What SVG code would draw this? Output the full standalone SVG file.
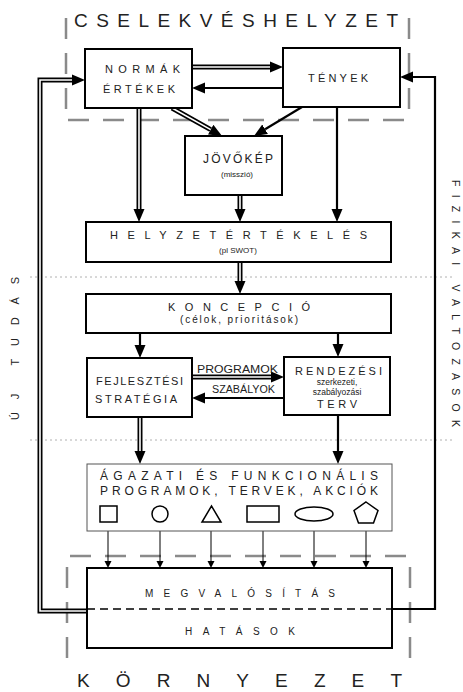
<svg xmlns="http://www.w3.org/2000/svg" width="463" height="692" viewBox="0 0 463 692">
<defs>
<marker id="ah" markerUnits="userSpaceOnUse" viewBox="0 -6 14 12" refX="0" refY="0" markerWidth="14" markerHeight="12" orient="auto"><path d="M0,-5.5 L13,0 L0,5.5 z" fill="#000"/></marker>
<marker id="as" markerUnits="userSpaceOnUse" viewBox="0 -4 8 8" refX="0" refY="0" markerWidth="8" markerHeight="8" orient="auto"><path d="M0,-3.5 L7,0 L0,3.5 z" fill="#000"/></marker>
</defs>
<style>
.box{fill:#fff;stroke:#000;stroke-width:2}
.t{font-family:"Liberation Sans",Arial,sans-serif;fill:#222}
.dbl{fill:none;stroke:#000;stroke-width:5}
.dblw{fill:none;stroke:#fff;stroke-width:1.6}
.sgl{fill:none;stroke:#000;stroke-width:2.2}
.thin{fill:none;stroke:#000;stroke-width:1}
.gd{fill:none;stroke:#8a8a8a;stroke-width:2.5;stroke-dasharray:21 14}
.dot{fill:none;stroke:#b0b0b0;stroke-width:1;stroke-dasharray:2 3}
.shp{fill:none;stroke:#000;stroke-width:1.5}
</style>
<rect width="463" height="692" fill="#fff"/>
<g id="frame">
<line class="dot" x1="30" y1="277" x2="455" y2="277"/>
<line class="dot" x1="30" y1="440" x2="455" y2="440"/>
<line class="gd" x1="66" y1="18" x2="66" y2="110"/>
<line class="gd" x1="409" y1="18" x2="409" y2="110"/>
<line class="gd" x1="68" y1="120" x2="409" y2="120"/>
<line class="gd" x1="70" y1="556" x2="409" y2="556"/>
<line class="gd" x1="67" y1="567" x2="67" y2="660"/>
<line class="gd" x1="410" y1="567" x2="410" y2="660"/>
<text class="t" x="74" y="27" font-size="19" textLength="324" lengthAdjust="spacing">CSELEKVÉSHELYZET</text>
<text class="t" x="77" y="687" font-size="19" textLength="325" lengthAdjust="spacing">KÖRNYEZET</text>
<text class="t" font-size="11" transform="translate(19,420) rotate(-90)" textLength="143" lengthAdjust="spacing">ÚJ TUDÁS</text>
<text class="t" font-size="10.5" transform="translate(452,180) rotate(90)" textLength="247" lengthAdjust="spacing">FIZIKAI VALTOZASOK</text>
</g>
<g id="connectors">
<path class="dbl" d="M87,611 H40 V80 H72" marker-end="url(#ah)"/>
<path class="dblw" d="M87,611 H40 V80 H72"/>
<path class="sgl" d="M392,609 H435 V77 H413" marker-end="url(#ah)"/>
<line class="dbl" x1="192" y1="67" x2="270" y2="67" marker-end="url(#ah)"/>
<line class="dblw" x1="192" y1="67" x2="270" y2="67"/>
<line class="sgl" x1="283" y1="88" x2="205" y2="88" marker-end="url(#ah)"/>
<line class="dbl" x1="172" y1="108" x2="210.7" y2="129.6" marker-end="url(#ah)"/>
<line class="dblw" x1="172" y1="108" x2="210.7" y2="129.6"/>
<line class="sgl" x1="302" y1="107" x2="265.1" y2="129.3" marker-end="url(#ah)"/>
<line class="dbl" x1="139" y1="108" x2="139" y2="209" marker-end="url(#ah)"/>
<line class="dblw" x1="139" y1="108" x2="139" y2="209"/>
<line class="dbl" x1="240" y1="195" x2="240" y2="209" marker-end="url(#ah)"/>
<line class="dblw" x1="240" y1="195" x2="240" y2="209"/>
<line class="sgl" x1="337" y1="107" x2="337" y2="209" marker-end="url(#ah)"/>
<line class="dbl" x1="240" y1="262" x2="240" y2="281" marker-end="url(#ah)"/>
<line class="dblw" x1="240" y1="262" x2="240" y2="281"/>
<line class="sgl" x1="140" y1="333" x2="140" y2="345" marker-end="url(#ah)"/>
<line class="sgl" x1="338" y1="333" x2="338" y2="344" marker-end="url(#ah)"/>
<line class="dbl" x1="192" y1="377" x2="271" y2="377" marker-end="url(#ah)"/>
<line class="dblw" x1="192" y1="377" x2="271" y2="377"/>
<line class="sgl" x1="284" y1="398" x2="205" y2="398" marker-end="url(#ah)"/>
<line class="dbl" x1="140" y1="417" x2="140" y2="451" marker-end="url(#ah)"/>
<line class="dblw" x1="140" y1="417" x2="140" y2="451"/>
<line class="sgl" x1="338" y1="415" x2="338" y2="451" marker-end="url(#ah)"/>
<line class="thin" x1="108" y1="522" x2="108" y2="561" marker-end="url(#as)"/>
<line class="thin" x1="160" y1="522" x2="160" y2="561" marker-end="url(#as)"/>
<line class="thin" x1="211" y1="522" x2="211" y2="561" marker-end="url(#as)"/>
<line class="thin" x1="263" y1="522" x2="263" y2="561" marker-end="url(#as)"/>
<line class="thin" x1="314" y1="521" x2="314" y2="561" marker-end="url(#as)"/>
<line class="thin" x1="366" y1="522" x2="366" y2="561" marker-end="url(#as)"/>
<text class="t" x="197" y="373" font-size="10" textLength="81" lengthAdjust="spacingAndGlyphs">PROGRAMOK</text>
<text class="t" x="212" y="393" font-size="10" textLength="63" lengthAdjust="spacingAndGlyphs">SZABÁLYOK</text>
</g>
<g id="normak">
<rect class="box" x="85" y="49" width="107" height="59"/>
<text class="t" x="105" y="73" font-size="11" textLength="75" lengthAdjust="spacing">NORMÁK</text>
<text class="t" x="103" y="93" font-size="11" textLength="72" lengthAdjust="spacing">ÉRTÉKEK</text>
</g>
<g id="tenyek">
<rect class="box" x="283" y="48" width="117" height="59"/>
<text class="t" x="308" y="82" font-size="11" textLength="60" lengthAdjust="spacing">TÉNYEK</text>
</g>
<g id="jovokep">
<rect class="box" x="185" y="136" width="97" height="59"/>
<text class="t" x="203" y="163" font-size="12" textLength="70" lengthAdjust="spacing">JÖVŐKÉP</text>
<text class="t" x="237" y="177" font-size="8" text-anchor="middle">(misszió)</text>
</g>
<g id="helyzet">
<rect class="box" x="86" y="222" width="305" height="40"/>
<text class="t" x="110" y="239" font-size="11" textLength="257" lengthAdjust="spacing">HELYZETÉRTÉKELÉS</text>
<text class="t" x="238" y="253" font-size="8" text-anchor="middle">(pl SWOT)</text>
</g>
<g id="koncepcio">
<rect class="box" x="86" y="294" width="305" height="39"/>
<text class="t" x="168" y="311" font-size="11" textLength="142" lengthAdjust="spacing">KONCEPCIÓ</text>
<text class="t" x="180" y="323" font-size="10" textLength="118" lengthAdjust="spacing">(célok, prioritások)</text>
</g>
<g id="fejlesztesi">
<rect class="box" x="87" y="358" width="105" height="59"/>
<text class="t" x="96" y="385" font-size="11" textLength="87" lengthAdjust="spacing">FEJLESZTÉSI</text>
<text class="t" x="95" y="403" font-size="11" textLength="82" lengthAdjust="spacing">STRATÉGIA</text>
</g>
<g id="rendezesi">
<rect class="box" x="284" y="357" width="106" height="58"/>
<text class="t" x="295" y="375" font-size="11" textLength="87" lengthAdjust="spacing">RENDEZÉSI</text>
<text class="t" x="337" y="385" font-size="8.5" text-anchor="middle">szerkezeti,</text>
<text class="t" x="337" y="395" font-size="8.5" text-anchor="middle">szabályozási</text>
<text class="t" x="317" y="408" font-size="11" textLength="40" lengthAdjust="spacing">TERV</text>
</g>
<g id="agazati">
<rect x="87" y="464" width="305" height="67" fill="#fff" stroke="#555" stroke-width="1"/>
<text class="t" x="100" y="480" font-size="12" textLength="278" lengthAdjust="spacing">ÁGAZATI ÉS FUNKCIONÁLIS</text>
<text class="t" x="100" y="495" font-size="12" textLength="278" lengthAdjust="spacing">PROGRAMOK, TERVEK, AKCIÓK</text>
<rect class="shp" x="100" y="506" width="17" height="16"/>
<circle class="shp" cx="160" cy="514" r="8"/>
<polygon class="shp" points="202,522 221,522 211.5,506"/>
<rect class="shp" x="247" y="506" width="32" height="16"/>
<ellipse class="shp" cx="314" cy="514" rx="19" ry="7"/>
<polygon class="shp" points="366,502 378,510.5 373.5,523 358.5,523 354,510.5"/>
</g>
<g id="megvalositas">
<rect class="box" x="87" y="568" width="305" height="80"/>
<line x1="87" y1="609" x2="392" y2="609" stroke="#000" stroke-width="1.3" stroke-dasharray="8 5"/>
<text class="t" x="145" y="597" font-size="10" textLength="190" lengthAdjust="spacing">MEGVALÓSÍTÁS</text>
<text class="t" x="185" y="635" font-size="10" textLength="110" lengthAdjust="spacing">HATÁSOK</text>
</g>
</svg>
